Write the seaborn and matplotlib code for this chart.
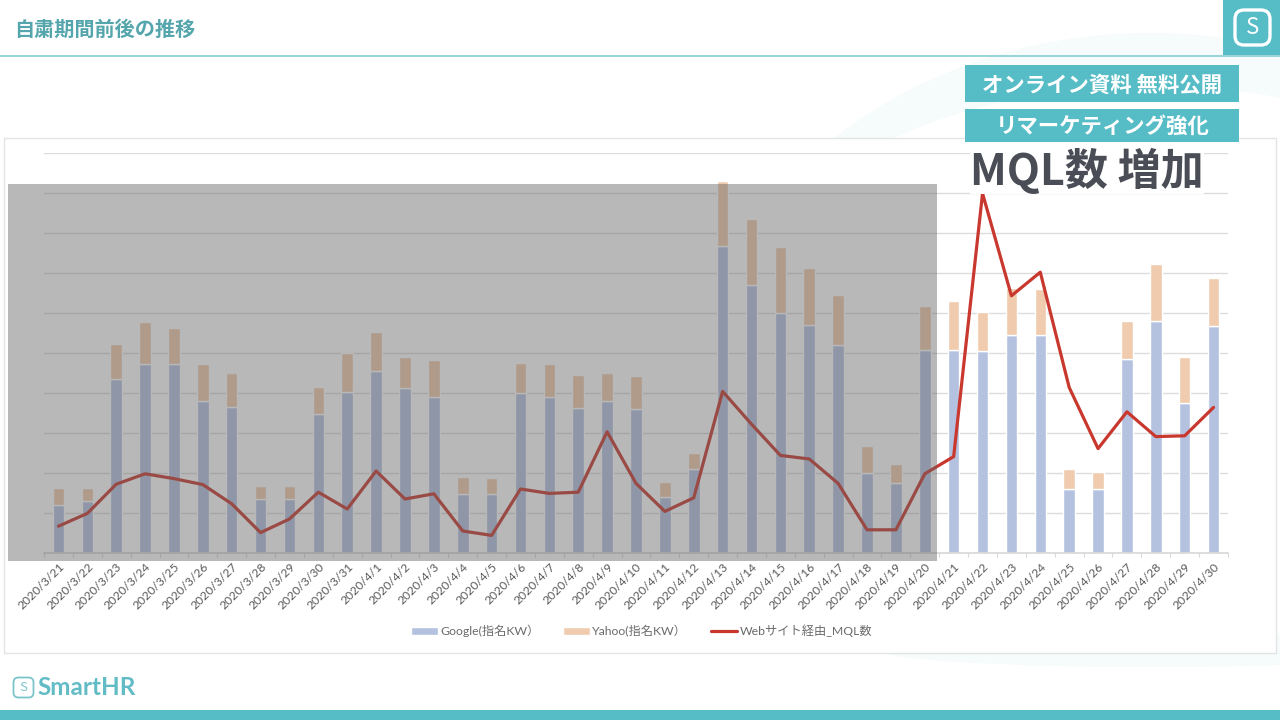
import numpy as np
import pandas as pd
import seaborn as sns
import matplotlib
matplotlib.use("Agg")
import matplotlib.pyplot as plt
from matplotlib.patches import Rectangle, Ellipse, FancyBboxPatch

dates = ['2020/3/%d' % d for d in range(21, 32)] + ['2020/4/%d' % d for d in range(1, 31)]

google_kw = [12.0, 13.0, 43.4, 47.2, 47.2, 38.0, 36.4, 13.4, 13.4, 34.8, 40.2,
             45.6, 41.2, 39.0, 14.8, 14.8, 40.1, 39.0, 36.3, 38.0, 35.9, 13.9,
             21.1, 76.8, 67.1, 59.9, 57.1, 52.0, 19.9, 17.5, 50.7, 50.8, 50.4,
             54.6, 54.6, 16.0, 16.0, 48.6, 58.1, 37.5, 56.8]
yahoo_kw = [4.3, 3.2, 8.9, 10.6, 9.0, 9.2, 8.7, 3.4, 3.4, 6.8, 9.7,
            9.6, 7.7, 9.2, 4.3, 3.9, 7.4, 8.2, 8.1, 7.1, 8.4, 3.8,
            3.9, 16.1, 16.3, 16.5, 14.1, 12.5, 6.9, 4.7, 11.0, 12.3, 9.8,
            11.6, 11.3, 4.9, 4.2, 9.3, 14.2, 11.5, 11.9]
mql = [6.7, 9.9, 17.2, 19.8, 18.6, 17.1, 12.3, 5.1, 8.5, 15.2, 11.0,
       20.5, 13.5, 14.8, 5.5, 4.4, 16.0, 14.9, 15.2, 30.3, 17.4, 10.4,
       13.8, 40.4, 32.2, 24.4, 23.5, 17.4, 5.8, 5.8, 19.8, 24.1, 89.9,
       64.3, 70.2, 41.4, 26.1, 35.3, 29.1, 29.3, 36.4]

df = pd.DataFrame({'date': dates, 'google': google_kw, 'yahoo': yahoo_kw, 'mql': mql})

TEAL = '#56bcc6'
sns.set_theme(style="white")
plt.rcParams['font.family'] = ['Noto Sans CJK JP', 'DejaVu Sans']

W, H = 1280, 720
fig = plt.figure(figsize=(12.8, 7.2), dpi=100, facecolor='white')


def pixel_axes(zorder):
    # full figure axes in pixel coordinates, for the slide decoration
    a = fig.add_axes([0, 0, 1, 1], zorder=zorder)
    a.set_xlim(0, W)
    a.set_ylim(H, 0)
    a.axis('off')
    return a


bg = pixel_axes(0)
top = pixel_axes(2)

# slide background
bg.add_patch(Ellipse((1150, 430), 932, 794, fc='#f6fbfb', ec='none'))
bg.add_patch(Ellipse((1150, 430), 964, 690, fc='white', ec='none'))
bg.add_patch(Rectangle((0, 640), W, 80, fc='white', ec='none'))
bg.add_patch(Ellipse((1150, 650), 540, 34, fc='#f6fbfb', ec='none'))
bg.add_patch(Rectangle((4, 138), 1272, 515, fc='white', ec='#e2e5e6', lw=1))
bg.plot([0, W], [55.5, 55.5], color='#8fd0d3', lw=1.3)
bg.add_patch(Rectangle((0, 710), W, 10, fc=TEAL, ec='none'))
bg.add_patch(Rectangle((1223, 0), 57, 55, fc=TEAL, ec='none'))
bg.add_patch(FancyBboxPatch((1235, 10), 35, 35, boxstyle='round,pad=0,rounding_size=9',
                            fc='none', ec='white', lw=2.4, mutation_aspect=1))
bg.text(1252.5, 27, 'S', color='white', fontsize=16, ha='center', va='center')
bg.text(14.5, 29, '自粛期間前後の推移', color='#55a5ad', fontsize=14.5, fontweight='bold', va='center')

# footer logo
bg.add_patch(FancyBboxPatch((13.5, 677.5), 20, 20, boxstyle='round,pad=0,rounding_size=5',
                            fc='none', ec='#7cc4cb', lw=1.3, mutation_aspect=1))
bg.text(23.5, 687.5, 'S', color='#7cc4cb', fontsize=9.5, ha='center', va='center')
bg.text(37.5, 687.5, 'SmartHR', color='#62bcc6', fontsize=17.5, fontweight='bold', va='center',
        family=['Lato', 'DejaVu Sans'])

# chart
ax = fig.add_axes([44 / W, 1 - 553 / H, 1184 / W, 400 / H], zorder=1)
ax.patch.set_alpha(0)

sns.barplot(data=df, x='date', y='google', color='#b4c2e0', width=0.4, saturation=1,
            label='Google(指名KW）', ax=ax)
sns.barplot(data=df, x='date', y='yahoo', bottom=df['google'], color='#f0cbad', width=0.4,
            saturation=1, label='Yahoo(指名KW）', ax=ax)
sns.lineplot(data=df, x=df.index, y='mql', color='#c9382e', linewidth=2.3,
             label='Webサイト経由_MQL数', ax=ax)

ax.set_xlim(-0.5, 40.5)
ax.set_ylim(0, 100)
ax.set_xlabel('')
ax.set_ylabel('')
ax.set_yticks(np.arange(0, 101, 10))
ax.set_yticklabels([])
ax.tick_params(axis='y', length=0)
ax.set_axisbelow(True)
ax.grid(axis='y', color='#dcdcdc', lw=1)
for name in ['top', 'left', 'right']:
    ax.spines[name].set_visible(False)
ax.spines['bottom'].set_color('#d9d9d9')

ax.set_xticks(range(len(dates)))
ax.set_xticklabels(dates, rotation=45, ha='right', rotation_mode='anchor',
                   fontsize=8.7, color='#595959', family=['Lato', 'Noto Sans CJK JP'])
ax.tick_params(axis='x', which='major', length=0, pad=6)
ax.set_xticks(np.arange(-0.5, 41, 1), minor=True)
ax.tick_params(axis='x', which='minor', length=3, width=0.8, color='#d9d9d9', bottom=True)

# bars first, then the line, as in the original legend
handles, labels = ax.get_legend_handles_labels()
order = [labels.index(name) for name in ['Google(指名KW）', 'Yahoo(指名KW）', 'Webサイト経由_MQL数']]
ax.legend([handles[i] for i in order], [labels[i] for i in order],
          loc='center', bbox_to_anchor=(0.505, -0.195), ncol=3, frameon=False,
          handlelength=2.2, columnspacing=1.9, handletextpad=0.2,
          labelcolor='#6b6b6b', prop={'family': ['Lato', 'Noto Sans CJK JP'], 'size': 8.8})

# gray overlay on the period before the push
top.add_patch(Rectangle((8, 184), 929, 377, fc='#626262', ec='none', alpha=0.45))

# annotation boxes
top.add_patch(Rectangle((965, 65), 274, 37, fc=TEAL, ec='none'))
top.add_patch(Rectangle((965, 109), 274, 33, fc=TEAL, ec='none'))
top.text(1102, 85, 'オンライン資料 無料公開', color='white', fontsize=15.4, fontweight='bold',
         ha='center', va='center')
top.text(1103, 126, 'リマーケティング強化', color='white', fontsize=15.4, fontweight='bold',
         ha='center', va='center')
top.text(1087, 171, 'MQL数 増加', color='#4a4d55', fontsize=31, fontweight='bold',
         ha='center', va='center',
         bbox=dict(fc='white', ec='none', pad=0))

fig.savefig('out.png', dpi=100)
